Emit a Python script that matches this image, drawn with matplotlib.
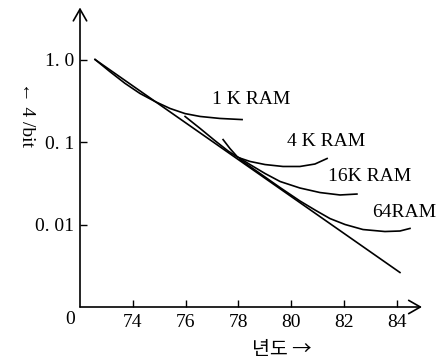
import matplotlib
matplotlib.use('Agg')
import matplotlib.pyplot as plt

# cost per bit vs. year (log scale)
trend_years = [72.57, 84.12]
trend_cost = [1.0, 0.00262]

ram1k_years = [72.57, 73.14, 73.70, 74.27, 74.84, 75.41, 75.98, 76.55, 77.30, 78.14]
ram1k_cost = [1.0, 0.71, 0.515, 0.388, 0.310, 0.255, 0.221, 0.204, 0.193, 0.187]

ram4k_years = [75.98, 76.55, 77.11, 77.61, 77.99, 78.44, 79.01, 79.69, 80.33, 80.90, 81.36]
ram4k_cost = [0.204, 0.146, 0.104, 0.0778, 0.0649, 0.0581, 0.0533, 0.0505, 0.0505, 0.0541, 0.0631]

ram16k_years = [77.42, 77.68, 77.95, 78.44, 79.01, 79.58, 80.33, 81.09, 81.85, 82.49]
ram16k_cost = [0.107, 0.0834, 0.0667, 0.0533, 0.0415, 0.0332, 0.0277, 0.0244, 0.0228, 0.0234]

ram64k_years = [78.06, 78.82, 79.58, 80.33, 80.90, 81.47, 82.04, 82.72, 83.55, 84.12, 84.50]
ram64k_cost = [0.0614, 0.0415, 0.0280, 0.0193, 0.0150, 0.0118, 0.0100, 0.00869, 0.00822, 0.00834, 0.00896]

x_ticks = [74, 76, 78, 80, 82, 84]
y_ticks = [1.0, 0.1, 0.01]
y_tick_labels = ['1. 0', '0. 1', '0. 01']

SERIF = ['Liberation Serif', 'DejaVu Serif']
plt.rcParams['font.family'] = SERIF

fig = plt.figure(figsize=(4.43, 3.62), dpi=100)
ax = fig.add_axes([80 / 443, 55 / 362, 342 / 443, 299.5 / 362])

ax.set_yscale('log')
ax.set_xlim(72, 84.955)
ax.set_ylim(0.001, 4.27)

lw = 1.2
ax.plot(trend_years, trend_cost, color='black', lw=lw, clip_on=False)
for yrs, cost in [(ram1k_years, ram1k_cost), (ram4k_years, ram4k_cost),
                  (ram16k_years, ram16k_cost), (ram64k_years, ram64k_cost)]:
    ax.plot(yrs, cost, color='black', lw=lw, clip_on=False)

ax.text(77.0, 0.327, '1 K RAM', fontsize=14, va='center', ha='left')
ax.text(79.84, 0.101, '4 K RAM', fontsize=14, va='center', ha='left')
ax.text(81.39, 0.0382, '16K RAM', fontsize=14, va='center', ha='left')
ax.text(83.06, 0.0140, '64RAM', fontsize=14, va='center', ha='left')

# axes drawn as arrows
for s in ax.spines.values():
    s.set_visible(False)
arrow = dict(arrowstyle='->,head_length=0.7,head_width=0.4', lw=1.2,
             color='black', shrinkA=0, shrinkB=0, mutation_scale=12)
ax.annotate('', xy=(1, 0), xytext=(0, 0), xycoords='axes fraction',
            textcoords='axes fraction', arrowprops=arrow)
ax.annotate('', xy=(0, 1), xytext=(0, 0), xycoords='axes fraction',
            textcoords='axes fraction', arrowprops=arrow)

ax.set_xticks(x_ticks)
ax.set_xticklabels([str(t) for t in x_ticks])
ax.set_yticks(y_ticks)
ax.set_yticklabels(y_tick_labels)
ax.minorticks_off()
ax.tick_params(axis='both', direction='in', length=5, width=1, labelsize=14)
ax.tick_params(axis='x', pad=5)
ax.tick_params(axis='y', pad=4)

fig.text(70 / 443, 1 - 320 / 362, '0', fontsize=14, ha='center', va='center')
fig.text(26 / 443, 1 - 115 / 362, '← 4 /bit', fontsize=14, rotation=-90,
         ha='center', va='center', family=SERIF)
fig.text(282 / 443, 1 - 350 / 362, '년도 →', fontsize=14, ha='center', va='center',
         family=['Noto Sans CJK KR', 'DejaVu Sans'])

fig.savefig('out.png', dpi=100)
